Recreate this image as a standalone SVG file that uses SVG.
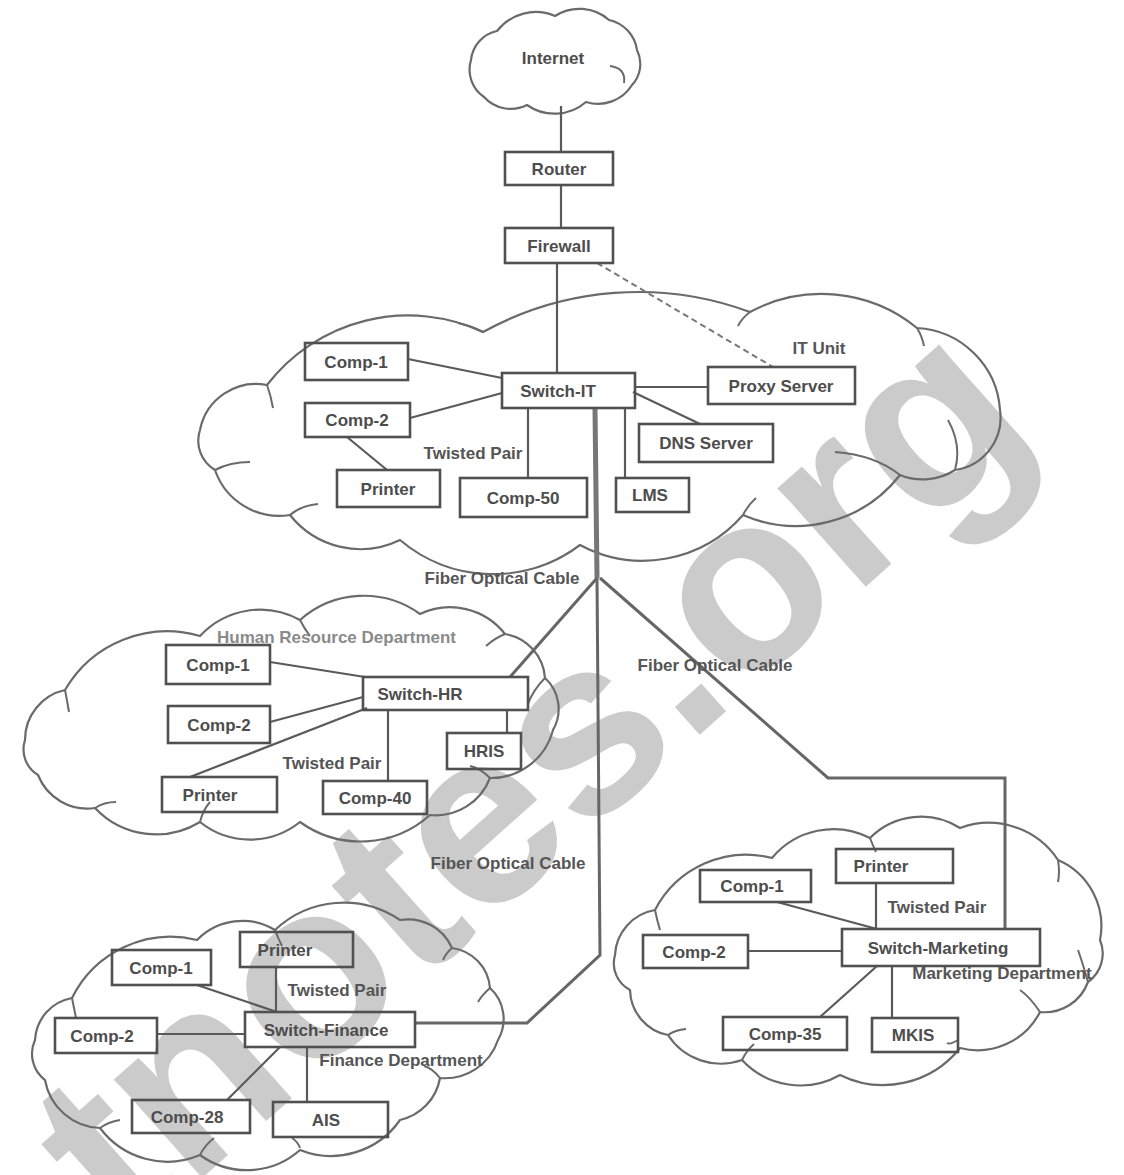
<svg xmlns="http://www.w3.org/2000/svg" width="1124" height="1175" viewBox="0 0 1124 1175">
<style>
.bg{fill:#ffffff}
.wm{fill:#cbcbcb;font-family:"Liberation Sans",Arial,sans-serif;font-weight:bold;font-size:250px}
.cloud{fill:none;stroke:#6a6a6a;stroke-width:2.2;stroke-linejoin:round}
.curl{fill:none;stroke:#6a6a6a;stroke-width:2}
.box{fill:none;stroke:#505050;stroke-width:2.6}
.ln{fill:none;stroke:#5a5a5a;stroke-width:2.2}
.fiber{fill:none;stroke:#666;stroke-width:3;stroke-linejoin:miter}
.fiberthick{fill:none;stroke:#777;stroke-width:5}
.dash{fill:none;stroke:#777;stroke-width:2;stroke-dasharray:6 4}
.t{font-family:"Liberation Sans",Arial,sans-serif;font-weight:bold;font-size:17px;fill:#4d4d4d;text-anchor:middle;dominant-baseline:central}
.lbl{font-family:"Liberation Sans",Arial,sans-serif;font-weight:bold;font-size:17px;fill:#555;text-anchor:middle;dominant-baseline:central}
.lbl2{font-family:"Liberation Sans",Arial,sans-serif;font-weight:bold;font-size:17px;fill:#8a8a8a;dominant-baseline:central}
</style>
<rect class="bg" x="0" y="0" width="1124" height="1175"/>
<text class="wm" x="127" y="1245" transform="rotate(-41.7 127 1245)">tnotes.org</text>

<g id="clouds">
<path id="cloud-internet" class="cloud" d="M484,97 A33,33 0 0 1 471,60 A33,33 0 0 1 497,31 A49,49 0 0 1 555,16 A45,45 0 0 1 609,20 A36,36 0 0 1 637,50 A31,31 0 0 1 632,85 A40,40 0 0 1 586,102 A48,48 0 0 1 527,105 A36,36 0 0 1 484,97 Z"/>
<path class="curl" d="M610,66 Q626,68 624,83"/>
<path id="cloud-it" class="cloud" d="M200,430 A57,57 0 0 1 267,385 A178,178 0 0 1 483,332 A322,322 0 0 1 750,312 A151,151 0 0 1 917,328 A88,88 0 0 1 1000,410 A53,53 0 0 1 955,470 A60,60 0 0 1 900,475 A132,132 0 0 1 743,515 A133,133 0 0 1 580,545 A144,144 0 0 1 400,540 A90,90 0 0 1 290,515 A68,68 0 0 1 215,470 A34,34 0 0 1 200,430 Z"/>
<path class="curl" d="M267,385 Q271,396 273,408 M483,332 Q472,326 458,323 M750,312 Q742,318 738,326 M917,328 Q922,336 924,346 M955,470 Q962,445 948,420 M900,475 Q875,455 835,452 M743,515 Q748,505 756,498 M290,515 Q300,506 318,504 M215,470 Q230,462 250,462"/>
<path id="cloud-hr" class="cloud" d="M25,740 A51,51 0 0 1 65,690 A118,118 0 0 1 200,636 A82,82 0 0 1 300,620 A96,96 0 0 1 420,614 A70,70 0 0 1 505,634 A48,48 0 0 1 545,678 A42,42 0 0 1 553,730 A64,64 0 0 1 490,778 A58,58 0 0 1 430,815 A104,104 0 0 1 300,822 A80,80 0 0 1 200,822 A84,84 0 0 1 95,808 A53,53 0 0 1 38,775 A30,30 0 0 1 25,740 Z"/>
<path class="curl" d="M65,690 Q67,700 69,712 M300,620 Q304,628 310,636 M505,634 Q495,638 486,646 M545,678 Q533,690 528,704 M490,778 Q480,768 470,766 M200,822 Q203,810 210,802 M95,808 Q104,802 116,802"/>
<path id="cloud-fin" class="cloud" d="M35,1040 A45,45 0 0 1 72,998 A110,110 0 0 1 197,940 A63,63 0 0 1 275,930 A100,100 0 0 1 400,920 A48,48 0 0 1 452,948 A44,44 0 0 1 490,988 A42,42 0 0 1 498,1040 A56,56 0 0 1 440,1078 A52,52 0 0 1 400,1120 A84,84 0 0 1 300,1150 A80,80 0 0 1 200,1155 A84,84 0 0 1 100,1128 A58,58 0 0 1 45,1080 A33,33 0 0 1 35,1040 Z"/>
<path class="curl" d="M72,998 Q74,1008 76,1018 M275,930 Q278,938 282,946 M452,948 Q446,953 443,960 M490,988 Q482,995 478,1002 M440,1078 Q432,1068 424,1066 M200,1155 Q205,1145 214,1138 M100,1128 Q108,1122 120,1120 M292,1138 Q298,1142 300,1148"/>
<path id="cloud-mkt" class="cloud" d="M615,955 A48,48 0 0 1 655,910 A103,103 0 0 1 772,858 A80,80 0 0 1 870,838 A72,72 0 0 1 960,828 A83,83 0 0 1 1058,860 A72,72 0 0 1 1100,940 A35,35 0 0 1 1088,982 A46,46 0 0 1 1040,1012 A70,70 0 0 1 960,1048 A98,98 0 0 1 840,1075 A80,80 0 0 1 742,1060 A63,63 0 0 1 668,1035 A47,47 0 0 1 630,990 A30,30 0 0 1 615,955 Z"/>
<path class="curl" d="M655,910 Q657,920 660,930 M870,838 Q873,846 876,852 M1058,860 Q1060,872 1058,882 M1088,982 Q1083,964 1078,950 M1040,1012 Q1030,997 1020,990 M958,1040 Q950,1045 947,1043 M742,1060 Q747,1050 754,1044 M668,1035 Q675,1030 686,1029"/>
</g>

<g id="connectors">
<line class="ln" x1="561" y1="106" x2="561" y2="152"/>
<line class="ln" x1="561" y1="185" x2="561" y2="228"/>
<line class="ln" x1="557" y1="263" x2="557" y2="373"/>
<line class="dash" x1="597" y1="263" x2="773" y2="367"/>
<line class="ln" x1="408" y1="359" x2="502" y2="378"/>
<line class="ln" x1="410" y1="418" x2="502" y2="393"/>
<line class="ln" x1="347" y1="437" x2="387" y2="470"/>
<line class="ln" x1="528" y1="408" x2="528" y2="478"/>
<line class="ln" x1="625" y1="408" x2="625" y2="478"/>
<line class="ln" x1="633" y1="392" x2="700" y2="424"/>
<line class="ln" x1="635" y1="387" x2="708" y2="387"/>
<line class="fiberthick" x1="595" y1="408" x2="597" y2="578"/>
<polyline class="fiber" points="597,578 600,955 527,1023 415,1023"/>
<line class="fiber" x1="597" y1="578" x2="510" y2="677"/>
<polyline class="fiber" points="600,578 828,778 1005,778 1005,929"/>
<line class="ln" x1="270" y1="662" x2="365" y2="677"/>
<line class="ln" x1="270" y1="722" x2="363" y2="697"/>
<line class="ln" x1="190" y1="777" x2="367" y2="708"/>
<line class="ln" x1="388" y1="710" x2="388" y2="781"/>
<line class="ln" x1="507" y1="710" x2="507" y2="733"/>
<line class="ln" x1="276" y1="967" x2="276" y2="1012"/>
<line class="ln" x1="197" y1="985" x2="277" y2="1012"/>
<line class="ln" x1="157" y1="1034" x2="245" y2="1034"/>
<line class="ln" x1="280" y1="1047" x2="227" y2="1100"/>
<line class="ln" x1="307" y1="1047" x2="307" y2="1102"/>
<line class="ln" x1="876" y1="883" x2="876" y2="929"/>
<line class="ln" x1="777" y1="902" x2="877" y2="929"/>
<line class="ln" x1="748" y1="951" x2="842" y2="951"/>
<line class="ln" x1="877" y1="966" x2="820" y2="1017"/>
<line class="ln" x1="892" y1="966" x2="892" y2="1018"/>
</g>

<g id="labels">
<text class="t" x="553" y="58">Internet</text>
<text class="lbl" x="819" y="348">IT Unit</text>
<text class="lbl" x="473" y="453">Twisted Pair</text>
<text class="lbl" x="502" y="578">Fiber Optical Cable</text>
<text class="lbl" x="715" y="665">Fiber Optical Cable</text>
<text class="lbl" x="508" y="863">Fiber Optical Cable</text>
<text class="lbl2" x="217" y="637">Human Resource Department</text>
<text class="lbl" x="332" y="763">Twisted Pair</text>
<text class="lbl" x="337" y="990">Twisted Pair</text>
<text class="lbl" x="401" y="1060">Finance Department</text>
<text class="lbl" x="937" y="907">Twisted Pair</text>
<text class="lbl" x="1002" y="973">Marketing Department</text>
</g>

<g id="router"><rect class="box" x="505" y="152" width="108" height="33"/><text class="t" x="559" y="169">Router</text></g>
<g id="firewall"><rect class="box" x="505" y="228" width="108" height="35"/><text class="t" x="559" y="246">Firewall</text></g>
<g id="switch-it"><rect class="box" x="502" y="373" width="133" height="35"/><text class="t" x="558" y="391">Switch-IT</text></g>
<g id="it-comp1"><rect class="box" x="305" y="343" width="103" height="37"/><text class="t" x="356" y="362">Comp-1</text></g>
<g id="it-comp2"><rect class="box" x="305" y="403" width="105" height="34"/><text class="t" x="357" y="420">Comp-2</text></g>
<g id="it-printer"><rect class="box" x="337" y="470" width="103" height="37"/><text class="t" x="388" y="489">Printer</text></g>
<g id="it-comp50"><rect class="box" x="460" y="478" width="127" height="39"/><text class="t" x="523" y="498">Comp-50</text></g>
<g id="it-lms"><rect class="box" x="616" y="478" width="73" height="34"/><text class="t" x="650" y="495">LMS</text></g>
<g id="it-dns"><rect class="box" x="639" y="424" width="134" height="38"/><text class="t" x="706" y="443">DNS Server</text></g>
<g id="it-proxy"><rect class="box" x="708" y="367" width="147" height="37"/><text class="t" x="781" y="386">Proxy Server</text></g>

<g id="switch-hr"><rect class="box" x="363" y="677" width="165" height="33"/><text class="t" x="420" y="694">Switch-HR</text></g>
<g id="hr-comp1"><rect class="box" x="166" y="645" width="104" height="39"/><text class="t" x="218" y="665">Comp-1</text></g>
<g id="hr-comp2"><rect class="box" x="168" y="706" width="102" height="37"/><text class="t" x="219" y="725">Comp-2</text></g>
<g id="hr-printer"><rect class="box" x="162" y="777" width="115" height="35"/><text class="t" x="210" y="795">Printer</text></g>
<g id="hr-comp40"><rect class="box" x="323" y="781" width="104" height="33"/><text class="t" x="375" y="798">Comp-40</text></g>
<g id="hr-hris"><rect class="box" x="447" y="733" width="74" height="36"/><text class="t" x="484" y="751">HRIS</text></g>

<g id="switch-finance"><rect class="box" x="245" y="1012" width="170" height="35"/><text class="t" x="326" y="1030">Switch-Finance</text></g>
<g id="fin-printer"><rect class="box" x="240" y="932" width="113" height="35"/><text class="t" x="285" y="950">Printer</text></g>
<g id="fin-comp1"><rect class="box" x="112" y="950" width="99" height="35"/><text class="t" x="161" y="968">Comp-1</text></g>
<g id="fin-comp2"><rect class="box" x="55" y="1018" width="102" height="35"/><text class="t" x="102" y="1036">Comp-2</text></g>
<g id="fin-comp28"><rect class="box" x="132" y="1100" width="118" height="33"/><text class="t" x="187" y="1117">Comp-28</text></g>
<g id="fin-ais"><rect class="box" x="273" y="1102" width="115" height="35"/><text class="t" x="326" y="1120">AIS</text></g>

<g id="switch-marketing"><rect class="box" x="842" y="929" width="198" height="37"/><text class="t" x="938" y="948">Switch-Marketing</text></g>
<g id="mkt-printer"><rect class="box" x="836" y="849" width="117" height="34"/><text class="t" x="881" y="866">Printer</text></g>
<g id="mkt-comp1"><rect class="box" x="700" y="870" width="111" height="32"/><text class="t" x="752" y="886">Comp-1</text></g>
<g id="mkt-comp2"><rect class="box" x="643" y="935" width="105" height="33"/><text class="t" x="694" y="952">Comp-2</text></g>
<g id="mkt-comp35"><rect class="box" x="723" y="1017" width="124" height="33"/><text class="t" x="785" y="1034">Comp-35</text></g>
<g id="mkt-mkis"><rect class="box" x="872" y="1018" width="86" height="34"/><text class="t" x="913" y="1035">MKIS</text></g>
</svg>
